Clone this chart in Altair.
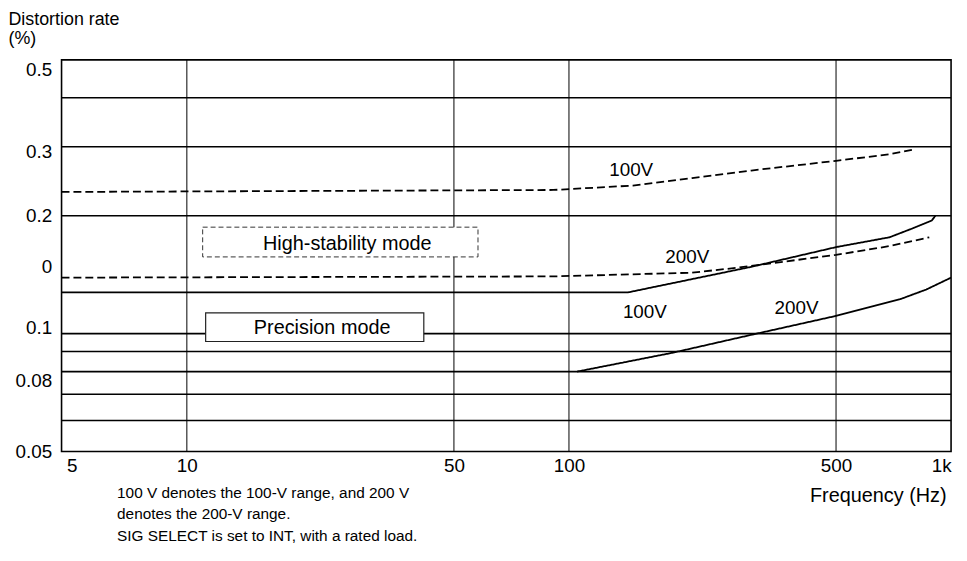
import altair as alt
import pandas as pd

# ---------------- data ----------------
X_DOMAIN = [4.7, 1000]
Y_DOMAIN = [0.05, 0.5]

hs100_f = [4.7, 91, 147, 210, 300, 500, 690, 800]
hs100_v = [0.230, 0.2327, 0.2388, 0.2496, 0.2609, 0.2762, 0.287, 0.2955]
hs200_f = [4.7, 91, 210, 275, 500, 690, 877]
hs200_v = [0.139, 0.140, 0.1431, 0.1473, 0.1589, 0.1673, 0.1762]
p100_f = [4.7, 143, 300, 500, 690, 790, 890, 910]
p100_v = [0.1275, 0.1275, 0.1481, 0.1663, 0.1762, 0.1854, 0.1944, 0.2]
p200_f = [105, 187, 300, 500, 735, 861, 1000]
p200_v = [0.08, 0.0894, 0.0993, 0.111, 0.1224, 0.1296, 0.139]

h_grid = [0.4, 0.3, 0.2, 0.1, 0.09, 0.08, 0.07, 0.06]
v_grid = [10, 50, 100, 500]

x_ticks = [5, 10, 50, 100, 500, 1000]
x_tick_labels = ["5", "10", "50", "100", "500", "1k"]
y_label_pos = [0.472, 0.292, 0.2, 0.148, 0.1036, 0.076, 0.05]
y_tick_labels = ["0.5", "0.3", "0.2", "0", "0.1", "0.08", "0.05"]

curve_labels = ["100V", "200V", "100V", "200V"]
curve_label_f = [145.5, 204, 158, 394]
curve_label_v = [0.262, 0.157, 0.1137, 0.1164]

box_names = ["High-stability mode", "Precision mode"]
box_f1 = [11.0, 11.2]
box_f2 = [57.8, 41.7]
box_v1 = [0.187, 0.113]
box_v2 = [0.157, 0.0955]
box_text_f = [26.3, 22.6]
box_text_v = [0.169, 0.1036]

footnote = ["100 V denotes the 100-V range, and 200 V",
            "denotes the 200-V range.",
            "SIG SELECT is set to INT, with a rated load."]

# ---------------- tables ----------------
rows = []
for name, mode, fs, vs in [("HS 100V", "High-stability", hs100_f, hs100_v),
                           ("HS 200V", "High-stability", hs200_f, hs200_v),
                           ("P 100V", "Precision", p100_f, p100_v),
                           ("P 200V", "Precision", p200_f, p200_v)]:
    for f, v in zip(fs, vs):
        rows.append({"f": f, "v": v, "series": name, "mode": mode})
curves = pd.DataFrame(rows)

hgrid_df = pd.DataFrame({"v": h_grid})
vgrid_df = pd.DataFrame({"f": v_grid})
lab_df = pd.DataFrame({"f": curve_label_f, "v": curve_label_v, "t": curve_labels})
box_df = pd.DataFrame({"f1": box_f1, "f2": box_f2, "v1": box_v1, "v2": box_v2,
                       "tf": box_text_f, "tv": box_text_v, "t": box_names})
note_df = pd.DataFrame({"t": ["\n".join(footnote)]})


def label_expr(vals, labels):
    s = "".join(f"datum.value == {v} ? '{l}' : " for v, l in zip(vals, labels))
    return s + "''"


FONT = "Liberation Sans"
xs = alt.Scale(type="log", domain=X_DOMAIN, nice=False)
ys = alt.Scale(type="log", domain=Y_DOMAIN, nice=False)
xaxis = alt.Axis(values=x_ticks, labelExpr=label_expr(x_ticks, x_tick_labels),
                 grid=False, ticks=False, domain=False, labelFontSize=19,
                 labelFont=FONT, labelColor="black", labelPadding=5,
                 title="Frequency (Hz)", titleFont=FONT, titleFontSize=20,
                 titleFontWeight="normal", titleColor="black",
                 titleAlign="right", titleBaseline="middle", titleX=892, titleY=44)
yaxis = alt.Axis(values=y_label_pos, labelExpr=label_expr(y_label_pos, y_tick_labels),
                 grid=False, ticks=False, domain=False, labelFontSize=19,
                 labelFont=FONT, labelColor="black", labelPadding=10,
                 labelOverlap=False,
                 title=["Distortion rate", "(%)"], titleFont=FONT, titleFontSize=18,
                 titleFontWeight="normal", titleColor="black", titleAngle=0,
                 titleAlign="left", titleBaseline="top", titleX=-54, titleY=-50,
                 titleLineHeight=20)


def X(field):
    return alt.X(field, type="quantitative", scale=xs, axis=xaxis)


def Y(field):
    return alt.Y(field, type="quantitative", scale=ys, axis=yaxis)


hrules = alt.Chart(hgrid_df).mark_rule(color="black", strokeWidth=1.6).encode(y=Y("v"))
vrules = alt.Chart(vgrid_df).mark_rule(color="black", strokeWidth=1).encode(x=X("f"))

lines = alt.Chart(curves).mark_line(color="black", strokeWidth=1.8, clip=True).encode(
    x=X("f"), y=Y("v"), detail="series:N",
    strokeDash=alt.StrokeDash("mode:N", scale=alt.Scale(domain=["High-stability", "Precision"],
                                                          range=[[8, 4], [1, 0]]), legend=None))

labels = alt.Chart(lab_df).mark_text(font=FONT, fontSize=19, color="black").encode(
    x=X("f"), y=Y("v"), text="t:N")

box_hs = alt.Chart(box_df).transform_filter(alt.datum.t == box_names[0]).mark_rect(
    fill="white", stroke="#333", strokeWidth=1, strokeDash=[5, 3]).encode(
    x=X("f1"), x2="f2", y=Y("v1"), y2="v2")
box_p = alt.Chart(box_df).transform_filter(alt.datum.t == box_names[1]).mark_rect(
    fill="white", stroke="#222", strokeWidth=1.2).encode(
    x=X("f1"), x2="f2", y=Y("v1"), y2="v2")
box_text = alt.Chart(box_df).mark_text(font=FONT, fontSize=20, color="black").encode(
    x=X("tf"), y=Y("tv"), text="t:N")

note = alt.Chart(note_df).mark_text(font=FONT, fontSize=15.5, color="black", align="left",
                                    baseline="top", lineBreak="\n", lineHeight=21.5).encode(
    x=alt.value(56), y=alt.value(430), text="t:N")

chart = alt.layer(hrules, vrules, lines, labels, box_hs, box_p, box_text, note).properties(
    width=897, height=395,
    autosize=alt.AutoSizeParams(type="none"),
    padding={"left": 54, "top": 50, "right": 8, "bottom": 100},
    background="white",
).configure_view(stroke="black", strokeWidth=1.6)

chart.save("out.html", embed_options={"renderer": "svg", "actions": False})
